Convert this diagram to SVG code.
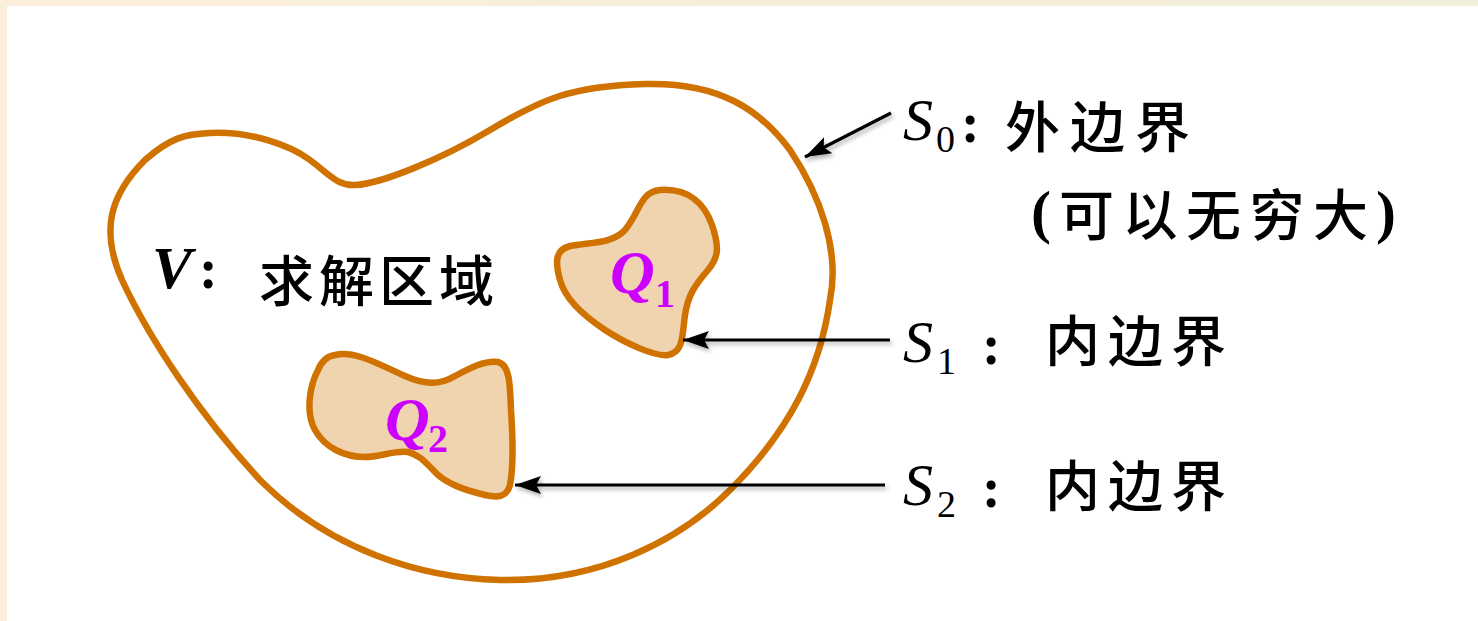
<svg xmlns="http://www.w3.org/2000/svg" width="1478" height="621" viewBox="0 0 1478 621">
<style>
.bound{fill:none;stroke:#D07200;stroke-width:6.5;stroke-linejoin:round}
.hole{fill:#F0D4B0;stroke:#D07200;stroke-width:6.5;stroke-linejoin:round}
.arr{stroke:#000;stroke-width:3.2;fill:none;marker-end:url(#ah)}
.cjk{font-family:"Liberation Serif","Noto Sans CJK SC",serif;font-size:55px;font-weight:500;fill:#000}
.ser{font-family:"Liberation Serif",serif;fill:#000}
.it{font-style:italic}
.q{font-family:"Liberation Serif",serif;font-style:italic;font-weight:bold;fill:#CC00FF}
.qs{font-family:"Liberation Serif",serif;font-style:normal;font-weight:bold;fill:#CC00FF}
</style>
<defs>
<linearGradient id="tg" x1="0" x2="1" y1="0" y2="0">
<stop offset="0" stop-color="#FBEEDA"/>
<stop offset="1" stop-color="#F2EEDC"/>
</linearGradient>
<marker id="ah" markerUnits="userSpaceOnUse" markerWidth="28" markerHeight="20" refX="26" refY="9" orient="auto">
<path d="M0,0 L26,9 L0,18 L5,9 Z" fill="#000"/>
</marker>
<filter id="sh" filterUnits="userSpaceOnUse" x="480" y="80" width="440" height="440">
<feDropShadow dx="2" dy="3" stdDeviation="2" flood-color="#000" flood-opacity="0.3"/>
</filter>
</defs>
<rect width="1478" height="621" fill="#FFFFFF"/>
<rect width="1478" height="6" fill="url(#tg)"/>
<rect width="7" height="621" fill="#FBEEDA"/>

<g id="outer">
<path class="bound" d="M210,133 C250,131 290,145 310,160 C330,175 338,186 355,185 C380,184 440,160 490,130 C540,100 570,86 645,84 C720,82 760,110 790,150 C820,195 840,250 830,300 C820,370 790,430 730,490 C680,540 600,582 500,580 C420,578 330,550 260,480 C200,415 150,340 122,280 C100,230 110,195 145,160 C170,138 185,134 210,133 Z"/>
<text x="152" y="288" class="ser it" font-weight="bold" font-size="60">V</text>
<text x="199" y="288" class="ser" font-weight="bold" font-size="56">:</text>
<text x="259" y="301" class="cjk" font-size="57" letter-spacing="5">求解区域</text>
</g>

<g id="q1">
<path class="hole" d="M660,190 C690,188 705,205 712,225 C720,248 718,258 708,270 C695,285 688,295 685,315 C682,335 684,352 668,355 C655,357 625,343 605,330 C580,313 565,298 560,280 C555,262 555,250 570,246 C590,242 612,244 625,230 C640,212 640,192 660,190 Z"/>
<text x="610" y="293" class="q" font-size="62">Q</text>
<text x="655" y="307" class="qs" font-size="40">1</text>
</g>

<g id="q2">
<path class="hole" d="M335,355 C355,350 380,365 405,376 C425,385 440,385 455,376 C470,368 485,360 498,362 C510,365 510,385 511,410 C513,440 513,470 510,485 C507,497 498,498 485,495 C465,490 450,485 438,475 C425,462 420,455 408,452 C395,450 380,457 365,457 C345,457 325,448 315,430 C305,412 310,385 318,370 C322,360 328,356 335,355 Z"/>
<text x="385" y="440" class="q" font-size="62">Q</text>
<text x="428" y="452" class="qs" font-size="40">2</text>
</g>

<g id="connectors" filter="url(#sh)">
<line class="arr" x1="891" y1="113" x2="805" y2="157"/>
<line class="arr" x1="890" y1="340" x2="683" y2="340"/>
<line class="arr" x1="885" y1="485" x2="515" y2="485"/>
</g>

<g id="label-s0">
<text x="903" y="140" class="ser it" font-size="60">S</text>
<text x="936" y="152" class="ser" font-size="38">0</text>
<text x="961" y="142" class="ser" font-weight="bold" font-size="56">:</text>
<text x="1005" y="147" class="cjk" letter-spacing="10">外边界</text>
<text x="1031" y="232" class="ser" font-weight="bold" font-size="60">(</text>
<text x="1059" y="235" class="cjk" letter-spacing="8.5">可以无穷大</text>
<text x="1376" y="232" class="ser" font-weight="bold" font-size="60">)</text>
</g>

<g id="label-s1">
<text x="903" y="362" class="ser it" font-size="60">S</text>
<text x="937" y="374" class="ser" font-size="38">1</text>
<text x="982" y="364" class="ser" font-weight="bold" font-size="56">:</text>
<text x="1045" y="361" class="cjk" letter-spacing="8">内边界</text>
</g>

<g id="label-s2">
<text x="903" y="505" class="ser it" font-size="60">S</text>
<text x="937" y="517" class="ser" font-size="38">2</text>
<text x="982" y="507" class="ser" font-weight="bold" font-size="56">:</text>
<text x="1045" y="506" class="cjk" letter-spacing="8">内边界</text>
</g>
</svg>
